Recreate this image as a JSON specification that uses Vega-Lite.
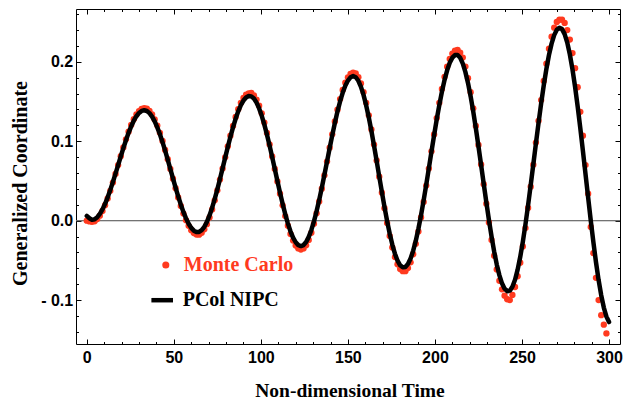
{
  "$schema": "https://vega.github.io/schema/vega-lite/v6.json",
  "width": 544,
  "height": 335,
  "autosize": {"type": "none"},
  "padding": {"left": 76, "top": 9, "right": 6, "bottom": 61},
  "background": "white",
  "config": {
    "view": {"stroke": "black", "strokeWidth": 1},
    "axis": {"grid": false, "domain": false, "tickColor": "black", "tickWidth": 1}
  },
  "resolve": {"axis": {"x": "independent", "y": "independent"}},
  "datasets": {
    "zero": [{"y": 0}],
    "curve": [
      {"t": 0, "pc": 0.006, "mc": 0.0},
      {"t": 1.5, "pc": 0.003, "mc": -0.001},
      {"t": 3, "pc": 0.001, "mc": -0.0015},
      {"t": 4.5, "pc": 0.0018, "mc": -0.0007},
      {"t": 6, "pc": 0.0044, "mc": 0.002},
      {"t": 7.5, "pc": 0.0085, "mc": 0.0063},
      {"t": 9, "pc": 0.0142, "mc": 0.0122},
      {"t": 10.5, "pc": 0.0212, "mc": 0.0194},
      {"t": 12, "pc": 0.0294, "mc": 0.0279},
      {"t": 13.5, "pc": 0.0387, "mc": 0.0376},
      {"t": 15, "pc": 0.0487, "mc": 0.0479},
      {"t": 16.5, "pc": 0.0592, "mc": 0.0588},
      {"t": 18, "pc": 0.07, "mc": 0.07},
      {"t": 19.5, "pc": 0.0808, "mc": 0.0812},
      {"t": 21, "pc": 0.0913, "mc": 0.0921},
      {"t": 22.5, "pc": 0.1013, "mc": 0.1024},
      {"t": 24, "pc": 0.1106, "mc": 0.1121},
      {"t": 25.5, "pc": 0.1188, "mc": 0.1206},
      {"t": 27, "pc": 0.1258, "mc": 0.1278},
      {"t": 28.5, "pc": 0.1315, "mc": 0.1337},
      {"t": 30, "pc": 0.1356, "mc": 0.138},
      {"t": 31.5, "pc": 0.1382, "mc": 0.1407},
      {"t": 33, "pc": 0.139, "mc": 0.1415},
      {"t": 34.5, "pc": 0.1381, "mc": 0.1411},
      {"t": 36, "pc": 0.1354, "mc": 0.1383},
      {"t": 37.5, "pc": 0.131, "mc": 0.1338},
      {"t": 39, "pc": 0.125, "mc": 0.1275},
      {"t": 40.5, "pc": 0.1175, "mc": 0.1197},
      {"t": 42, "pc": 0.1087, "mc": 0.1106},
      {"t": 43.5, "pc": 0.0988, "mc": 0.1003},
      {"t": 45, "pc": 0.0881, "mc": 0.0891},
      {"t": 46.5, "pc": 0.0767, "mc": 0.0773},
      {"t": 48, "pc": 0.065, "mc": 0.0651},
      {"t": 49.5, "pc": 0.0532, "mc": 0.0529},
      {"t": 51, "pc": 0.0417, "mc": 0.0409},
      {"t": 52.5, "pc": 0.0306, "mc": 0.0293},
      {"t": 54, "pc": 0.0203, "mc": 0.0186},
      {"t": 55.5, "pc": 0.011, "mc": 0.0089},
      {"t": 57, "pc": 0.0029, "mc": 0.0005},
      {"t": 58.5, "pc": -0.0039, "mc": -0.0065},
      {"t": 60, "pc": -0.0091, "mc": -0.012},
      {"t": 61.5, "pc": -0.0126, "mc": -0.0156},
      {"t": 63, "pc": -0.0143, "mc": -0.0174},
      {"t": 64.5, "pc": -0.0142, "mc": -0.0176},
      {"t": 66, "pc": -0.012, "mc": -0.0153},
      {"t": 67.5, "pc": -0.0077, "mc": -0.0109},
      {"t": 69, "pc": -0.0015, "mc": -0.0044},
      {"t": 70.5, "pc": 0.0066, "mc": 0.004},
      {"t": 72, "pc": 0.0163, "mc": 0.0141},
      {"t": 73.5, "pc": 0.0274, "mc": 0.0256},
      {"t": 75, "pc": 0.0395, "mc": 0.0382},
      {"t": 76.5, "pc": 0.0524, "mc": 0.0517},
      {"t": 78, "pc": 0.0658, "mc": 0.0656},
      {"t": 79.5, "pc": 0.0794, "mc": 0.0797},
      {"t": 81, "pc": 0.0927, "mc": 0.0936},
      {"t": 82.5, "pc": 0.1055, "mc": 0.1069},
      {"t": 84, "pc": 0.1175, "mc": 0.1193},
      {"t": 85.5, "pc": 0.1283, "mc": 0.1306},
      {"t": 87, "pc": 0.1376, "mc": 0.1403},
      {"t": 88.5, "pc": 0.1454, "mc": 0.1484},
      {"t": 90, "pc": 0.1512, "mc": 0.1544},
      {"t": 91.5, "pc": 0.1551, "mc": 0.1585},
      {"t": 93, "pc": 0.1569, "mc": 0.1603},
      {"t": 94.5, "pc": 0.1565, "mc": 0.1607},
      {"t": 96, "pc": 0.1537, "mc": 0.1578},
      {"t": 97.5, "pc": 0.1486, "mc": 0.1524},
      {"t": 99, "pc": 0.1413, "mc": 0.1448},
      {"t": 100.5, "pc": 0.132, "mc": 0.1351},
      {"t": 102, "pc": 0.1209, "mc": 0.1235},
      {"t": 103.5, "pc": 0.1083, "mc": 0.1104},
      {"t": 105, "pc": 0.0946, "mc": 0.096},
      {"t": 106.5, "pc": 0.08, "mc": 0.0808},
      {"t": 108, "pc": 0.065, "mc": 0.0651},
      {"t": 109.5, "pc": 0.05, "mc": 0.0494},
      {"t": 111, "pc": 0.0352, "mc": 0.034},
      {"t": 112.5, "pc": 0.0212, "mc": 0.0193},
      {"t": 114, "pc": 0.0082, "mc": 0.0058},
      {"t": 115.5, "pc": -0.0034, "mc": -0.0064},
      {"t": 117, "pc": -0.0134, "mc": -0.0168},
      {"t": 118.5, "pc": -0.0214, "mc": -0.0251},
      {"t": 120, "pc": -0.0272, "mc": -0.0313},
      {"t": 121.5, "pc": -0.0308, "mc": -0.035},
      {"t": 123, "pc": -0.032, "mc": -0.0363},
      {"t": 124.5, "pc": -0.0307, "mc": -0.0349},
      {"t": 126, "pc": -0.0268, "mc": -0.0309},
      {"t": 127.5, "pc": -0.0204, "mc": -0.0242},
      {"t": 129, "pc": -0.0117, "mc": -0.0152},
      {"t": 130.5, "pc": -0.0009, "mc": -0.0039},
      {"t": 132, "pc": 0.0118, "mc": 0.0093},
      {"t": 133.5, "pc": 0.0261, "mc": 0.0241},
      {"t": 135, "pc": 0.0415, "mc": 0.0402},
      {"t": 136.5, "pc": 0.0578, "mc": 0.0571},
      {"t": 138, "pc": 0.0744, "mc": 0.0744},
      {"t": 139.5, "pc": 0.0911, "mc": 0.0918},
      {"t": 141, "pc": 0.1074, "mc": 0.1087},
      {"t": 142.5, "pc": 0.1229, "mc": 0.1249},
      {"t": 144, "pc": 0.1373, "mc": 0.1398},
      {"t": 145.5, "pc": 0.1501, "mc": 0.1531},
      {"t": 147, "pc": 0.161, "mc": 0.1645},
      {"t": 148.5, "pc": 0.1699, "mc": 0.1737},
      {"t": 150, "pc": 0.1764, "mc": 0.1805},
      {"t": 151.5, "pc": 0.1805, "mc": 0.1847},
      {"t": 153, "pc": 0.182, "mc": 0.1863},
      {"t": 154.5, "pc": 0.1806, "mc": 0.1854},
      {"t": 156, "pc": 0.1761, "mc": 0.1806},
      {"t": 157.5, "pc": 0.1685, "mc": 0.1728},
      {"t": 159, "pc": 0.1581, "mc": 0.1619},
      {"t": 160.5, "pc": 0.1451, "mc": 0.1484},
      {"t": 162, "pc": 0.1299, "mc": 0.1326},
      {"t": 163.5, "pc": 0.1129, "mc": 0.1149},
      {"t": 165, "pc": 0.0945, "mc": 0.0958},
      {"t": 166.5, "pc": 0.0752, "mc": 0.0758},
      {"t": 168, "pc": 0.0556, "mc": 0.0554},
      {"t": 169.5, "pc": 0.0361, "mc": 0.0351},
      {"t": 171, "pc": 0.0174, "mc": 0.0156},
      {"t": 172.5, "pc": -0.0003, "mc": -0.0028},
      {"t": 174, "pc": -0.0162, "mc": -0.0193},
      {"t": 175.5, "pc": -0.0301, "mc": -0.0338},
      {"t": 177, "pc": -0.0416, "mc": -0.0458},
      {"t": 178.5, "pc": -0.0504, "mc": -0.0549},
      {"t": 180, "pc": -0.0562, "mc": -0.0609},
      {"t": 181.5, "pc": -0.0588, "mc": -0.0636},
      {"t": 183, "pc": -0.0583, "mc": -0.0636},
      {"t": 184.5, "pc": -0.0545, "mc": -0.0597},
      {"t": 186, "pc": -0.0476, "mc": -0.0525},
      {"t": 187.5, "pc": -0.0378, "mc": -0.0423},
      {"t": 189, "pc": -0.0252, "mc": -0.0292},
      {"t": 190.5, "pc": -0.0102, "mc": -0.0136},
      {"t": 192, "pc": 0.0068, "mc": 0.0041},
      {"t": 193.5, "pc": 0.0255, "mc": 0.0235},
      {"t": 195, "pc": 0.0454, "mc": 0.0442},
      {"t": 196.5, "pc": 0.066, "mc": 0.0656},
      {"t": 198, "pc": 0.0868, "mc": 0.0873},
      {"t": 199.5, "pc": 0.1073, "mc": 0.1086},
      {"t": 201, "pc": 0.1271, "mc": 0.1292},
      {"t": 202.5, "pc": 0.1456, "mc": 0.1484},
      {"t": 204, "pc": 0.1623, "mc": 0.1658},
      {"t": 205.5, "pc": 0.177, "mc": 0.1811},
      {"t": 207, "pc": 0.1893, "mc": 0.1939},
      {"t": 208.5, "pc": 0.1987, "mc": 0.2037},
      {"t": 210, "pc": 0.2052, "mc": 0.2104},
      {"t": 211.5, "pc": 0.2085, "mc": 0.2139},
      {"t": 213, "pc": 0.2086, "mc": 0.215},
      {"t": 214.5, "pc": 0.205, "mc": 0.2115},
      {"t": 216, "pc": 0.1977, "mc": 0.2053},
      {"t": 217.5, "pc": 0.187, "mc": 0.194},
      {"t": 219, "pc": 0.1731, "mc": 0.1793},
      {"t": 220.5, "pc": 0.1564, "mc": 0.1617},
      {"t": 222, "pc": 0.1372, "mc": 0.1414},
      {"t": 223.5, "pc": 0.1161, "mc": 0.1192},
      {"t": 225, "pc": 0.0936, "mc": 0.0954},
      {"t": 226.5, "pc": 0.0702, "mc": 0.0708},
      {"t": 228, "pc": 0.0466, "mc": 0.0459},
      {"t": 229.5, "pc": 0.0233, "mc": 0.0213},
      {"t": 231, "pc": 0.001, "mc": -0.0022},
      {"t": 232.5, "pc": -0.0199, "mc": -0.0243},
      {"t": 234, "pc": -0.0387, "mc": -0.0442},
      {"t": 235.5, "pc": -0.0551, "mc": -0.0614},
      {"t": 237, "pc": -0.0686, "mc": -0.0757},
      {"t": 238.5, "pc": -0.0789, "mc": -0.0865},
      {"t": 240, "pc": -0.0857, "mc": -0.0945},
      {"t": 241.5, "pc": -0.0888, "mc": -0.099},
      {"t": 243, "pc": -0.0881, "mc": -0.1},
      {"t": 244.5, "pc": -0.0832, "mc": -0.0935},
      {"t": 246, "pc": -0.0744, "mc": -0.0835},
      {"t": 247.5, "pc": -0.0617, "mc": -0.07},
      {"t": 249, "pc": -0.0455, "mc": -0.0529},
      {"t": 250.5, "pc": -0.0263, "mc": -0.0325},
      {"t": 252, "pc": -0.0045, "mc": -0.0094},
      {"t": 253.5, "pc": 0.0194, "mc": 0.0159},
      {"t": 255, "pc": 0.0447, "mc": 0.0428},
      {"t": 256.5, "pc": 0.0709, "mc": 0.0705},
      {"t": 258, "pc": 0.0971, "mc": 0.0983},
      {"t": 259.5, "pc": 0.1229, "mc": 0.1257},
      {"t": 261, "pc": 0.1476, "mc": 0.1518},
      {"t": 262.5, "pc": 0.1704, "mc": 0.176},
      {"t": 264, "pc": 0.1909, "mc": 0.1977},
      {"t": 265.5, "pc": 0.2086, "mc": 0.2165},
      {"t": 267, "pc": 0.2229, "mc": 0.2317},
      {"t": 268.5, "pc": 0.2336, "mc": 0.243},
      {"t": 270, "pc": 0.2403, "mc": 0.2501},
      {"t": 271.5, "pc": 0.243, "mc": 0.253},
      {"t": 273, "pc": 0.2412, "mc": 0.253},
      {"t": 274.5, "pc": 0.2349, "mc": 0.249},
      {"t": 276, "pc": 0.2242, "mc": 0.24},
      {"t": 277.5, "pc": 0.2092, "mc": 0.228},
      {"t": 279, "pc": 0.1905, "mc": 0.211},
      {"t": 280.5, "pc": 0.1684, "mc": 0.192},
      {"t": 282, "pc": 0.1434, "mc": 0.168},
      {"t": 283.5, "pc": 0.1164, "mc": 0.137},
      {"t": 285, "pc": 0.0878, "mc": 0.107},
      {"t": 286.5, "pc": 0.0585, "mc": 0.07},
      {"t": 288, "pc": 0.0291, "mc": 0.034},
      {"t": 289.5, "pc": 0.0003, "mc": -0.008},
      {"t": 291, "pc": -0.0269, "mc": -0.041},
      {"t": 292.5, "pc": -0.0522, "mc": -0.072},
      {"t": 294, "pc": -0.0747, "mc": -0.1},
      {"t": 295.5, "pc": -0.0939, "mc": -0.119},
      {"t": 297, "pc": -0.1094, "mc": -0.131},
      {"t": 298.5, "pc": -0.1208, "mc": -0.142},
      {"t": 300, "pc": -0.1277}
    ]
  },
  "layer": [
    {
      "data": {"name": "zero"},
      "mark": {"type": "rule", "color": "#707070", "strokeWidth": 1},
      "encoding": {
        "x": {"datum": -6.2, "type": "quantitative",
          "scale": {"domain": [-6.2, 306.3], "nice": false, "zero": false},
          "axis": {"orient": "bottom", "offset": -5, "tickSize": 5, "values": [0, 50, 100, 150, 200, 250, 300],
            "format": "d", "labelFont": "Liberation Sans", "labelFontWeight": "bold", "labelFontSize": 16,
            "labelColor": "black", "labelPadding": 5.5, "labelFlush": false, "labelOverlap": false,
            "title": "Non-dimensional Time", "titleFont": "Liberation Serif", "titleFontWeight": "bold",
            "titleFontSize": 19.5, "titleColor": "black", "titleX": 273.5, "titleY": 57.7,
            "titleBaseline": "alphabetic", "titleAlign": "center"}},
        "x2": {"datum": 306.3},
        "y": {"field": "y", "type": "quantitative",
          "scale": {"domain": [-0.1553, 0.2665], "nice": false, "zero": false},
          "axis": {"orient": "left", "offset": -5, "tickSize": 5, "values": [-0.1, 0, 0.1, 0.2],
            "labelExpr": "datum.value < 0 ? '- ' + format(-datum.value, '.1f') : format(datum.value, '.1f')",
            "labelFont": "Liberation Sans", "labelFontWeight": "bold", "labelFontSize": 16,
            "labelColor": "black", "labelPadding": 3.3, "labelFlush": false, "labelOverlap": false,
            "title": "Generalized Coordinate", "titleFont": "Liberation Serif", "titleFontWeight": "bold",
            "titleFontSize": 20, "titleColor": "black", "titleX": -54.3, "titleY": 174,
            "titleAngle": -90, "titleBaseline": "alphabetic", "titleAlign": "center"}}
      }
    },
    {
      "data": {"name": "zero"},
      "mark": {"type": "rule", "color": "#707070", "strokeWidth": 1},
      "encoding": {
        "x": {"datum": -6.2, "type": "quantitative",
          "scale": {"domain": [-6.2, 306.3], "nice": false, "zero": false},
          "axis": {"orient": "bottom", "offset": -2.5, "tickSize": 2.5, "labels": false, "title": null,
            "values": [10, 20, 30, 40, 60, 70, 80, 90, 110, 120, 130, 140, 160, 170, 180, 190, 210, 220, 230, 240, 260, 270, 280, 290]}},
        "x2": {"datum": 306.3},
        "y": {"field": "y", "type": "quantitative",
          "scale": {"domain": [-0.1553, 0.2665], "nice": false, "zero": false},
          "axis": {"orient": "left", "offset": -2.5, "tickSize": 2.5, "labels": false, "title": null,
            "values": [-0.14, -0.12, -0.08, -0.06, -0.04, -0.02, 0.02, 0.04, 0.06, 0.08, 0.12, 0.14, 0.16, 0.18, 0.22, 0.24, 0.26]}}
      }
    },
    {
      "data": {"name": "curve"},
      "mark": {"type": "circle", "size": 40, "opacity": 1},
      "encoding": {
        "x": {"field": "t", "type": "quantitative",
          "scale": {"domain": [-6.2, 306.3], "nice": false, "zero": false},
          "axis": {"orient": "top", "offset": -5, "tickSize": 5, "labels": false, "title": null,
            "values": [0, 50, 100, 150, 200, 250, 300]}},
        "y": {"field": "mc", "type": "quantitative",
          "scale": {"domain": [-0.1553, 0.2665], "nice": false, "zero": false},
          "axis": {"orient": "right", "offset": -5, "tickSize": 5, "labels": false, "title": null,
            "values": [-0.1, 0, 0.1, 0.2]}},
        "fill": {"datum": "Monte Carlo", "type": "nominal",
          "scale": {"domain": ["Monte Carlo"], "range": ["#ff3a1f"]},
          "legend": {"orient": "none", "legendX": 79.8, "legendY": 246, "title": null, "padding": 0,
            "symbolType": "circle", "symbolSize": 50, "symbolStrokeWidth": 0,
            "labelFont": "Liberation Serif", "labelFontWeight": "bold", "labelFontSize": 20,
            "labelColor": "#ff3a1f", "labelOffset": 8}}
      }
    },
    {
      "data": {"name": "curve"},
      "mark": {"type": "line", "strokeWidth": 4.5, "strokeJoin": "round", "strokeCap": "round"},
      "encoding": {
        "x": {"field": "t", "type": "quantitative",
          "scale": {"domain": [-6.2, 306.3], "nice": false, "zero": false},
          "axis": {"orient": "top", "offset": -2.5, "tickSize": 2.5, "labels": false, "title": null,
            "values": [10, 20, 30, 40, 60, 70, 80, 90, 110, 120, 130, 140, 160, 170, 180, 190, 210, 220, 230, 240, 260, 270, 280, 290]}},
        "y": {"field": "pc", "type": "quantitative",
          "scale": {"domain": [-0.1553, 0.2665], "nice": false, "zero": false},
          "axis": {"orient": "right", "offset": -2.5, "tickSize": 2.5, "labels": false, "title": null,
            "values": [-0.14, -0.12, -0.08, -0.06, -0.04, -0.02, 0.02, 0.04, 0.06, 0.08, 0.12, 0.14, 0.16, 0.18, 0.22, 0.24, 0.26]}},
        "stroke": {"datum": "PCol NIPC", "type": "nominal",
          "scale": {"domain": ["PCol NIPC"], "range": ["black"]},
          "legend": {"orient": "none", "legendX": 72.7, "legendY": 277.7, "title": null, "padding": 0,
            "symbolType": "stroke", "symbolSize": 467, "symbolStrokeWidth": 4.5,
            "labelFont": "Liberation Serif", "labelFontWeight": "bold", "labelFontSize": 20,
            "labelColor": "black", "labelOffset": 7}}
      }
    }
  ]
}
